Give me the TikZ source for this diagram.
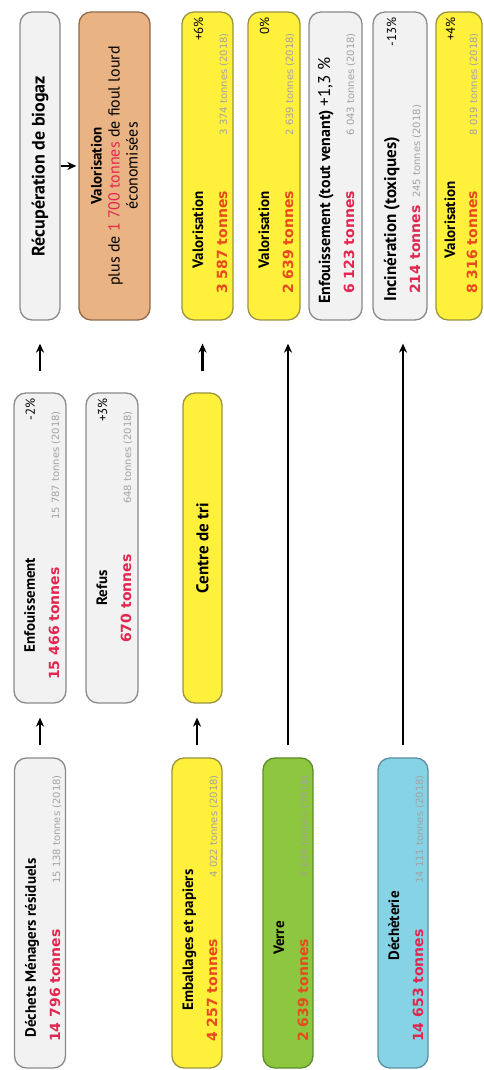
\documentclass[tikz,border=0pt]{standalone}
\usepackage{fontspec}
\usetikzlibrary{arrows.meta}
\newfontfamily\ttlfont{PT Sans}
\newfontfamily\numfont{DejaVu Sans}
\definecolor{greyfill}{HTML}{F2F2F2}
\definecolor{greyline}{HTML}{8A8A8A}
\definecolor{yelfill}{HTML}{FFF03C}
\definecolor{yelline}{HTML}{9A9440}
\definecolor{grnfill}{HTML}{8DC63F}
\definecolor{grnline}{HTML}{5E8C2A}
\definecolor{cyanfill}{HTML}{86D3E6}
\definecolor{cyanline}{HTML}{5B8FA3}
\definecolor{orgfill}{HTML}{E9B384}
\definecolor{orgline}{HTML}{8E6B4B}
\definecolor{numred}{HTML}{E2264F}
\definecolor{numorange}{HTML}{E8491D}
\definecolor{oldgrey}{HTML}{A3A3A3}

\tikzset{
  wbox/.style={draw, rounded corners=12pt, line width=1.3pt, minimum width=310pt, inner sep=0pt},
  greybox/.style={wbox, draw=greyline, fill=greyfill},
  yelbox/.style={wbox, draw=yelline, fill=yelfill},
  grnbox/.style={wbox, draw=grnline, fill=grnfill},
  cyanbox/.style={wbox, draw=cyanline, fill=cyanfill},
  orgbox/.style={wbox, draw=orgline, fill=orgfill},
  ttl/.style={font=\ttlfont\bfseries\fontsize{15}{18}\selectfont, inner sep=0pt, anchor=base},
  qty/.style={font=\numfont\bfseries\fontsize{14}{16}\selectfont, text=numred, inner sep=0pt, anchor=base west},
  prev/.style={font=\numfont\fontsize{10}{12}\selectfont, text=oldgrey, inner sep=0pt, anchor=base east},
  pct/.style={font=\ttlfont\fontsize{13}{15}\selectfont, inner sep=0pt, anchor=base east},
  flow/.style={-{Stealth[length=9pt,width=8pt]}, line width=2.5pt},
}

\begin{document}
\begin{tikzpicture}[x=1pt, y=1pt, rotate=90, transform shape]
\useasboundingbox (0,0) rectangle (1070,-483);

\node[greybox, minimum height=51pt] (dmr) at (157,-40) {};
\node[greybox, minimum height=52pt] (enf) at (522,-40) {};
\node[greybox, minimum height=52pt] (refus) at (522,-112) {};
\node[greybox, minimum height=40pt, minimum width=308pt] (recup) at (904,-40) {};
\node[orgbox, minimum height=71pt, minimum width=308pt] (valo) at (904,-114.5) {};
\node[yelbox, minimum height=50pt] (emb) at (157,-197) {};
\node[yelbox, minimum height=39pt] (tri) at (522,-202.5) {};
\node[yelbox, minimum height=51pt, minimum width=308pt] (val1) at (904,-207.5) {};
\node[grnbox, minimum height=50pt] (verre) at (157,-288) {};
\node[yelbox, minimum height=52pt, minimum width=308pt] (val2) at (904,-274) {};
\node[greybox, minimum height=53pt, minimum width=308pt] (enftv) at (904,-335.5) {};
\node[cyanbox, minimum height=50pt] (dech) at (157,-403) {};
\node[greybox, minimum height=54pt, minimum width=308pt] (inc) at (904,-400) {};
\node[yelbox, minimum height=46pt, minimum width=308pt] (val3) at (904,-459) {};

\node[ttl] (dmr-t) at (122,-36) {Déchets Ménagers résiduels};
\node[qty] (dmr-n) at (28,-60) {14 796 tonnes};
\node[prev] (dmr-o) at (295,-60) {15 138 tonnes (2018)};

\node[ttl] (enf-t) at (465,-35) {Enfouissement};
\node[pct] (enf-p) at (672,-35) {-2\%};
\node[qty] (enf-n) at (390,-59) {15 466 tonnes};
\node[prev] (enf-o) at (659,-59) {15 787 tonnes (2018)};

\node[ttl] (refus-t) at (482,-107) {Refus};
\node[pct] (refus-p) at (672,-107) {+3\%};
\node[qty] (refus-n) at (427,-131) {670 tonnes};
\node[prev] (refus-o) at (659,-131) {648 tonnes (2018)};

\node[ttl, anchor=center, font=\ttlfont\bfseries\fontsize{18}{20}\selectfont] (recup-t) at (recup.center) {Récupération de biogaz};
\node[ttl, anchor=center, align=center, font=\ttlfont\fontsize{16}{18}\selectfont] (valo-t) at (valo.center)
  {\textbf{\fontsize{15}{18}\selectfont Valorisation}\\plus de \textcolor{numred}{1 700 tonnes} de fioul lourd\\économisées};

\node[ttl] (emb-t) at (130,-193) {Emballages et papiers};
\node[qty, text=numorange] (emb-n) at (28,-217) {4 257 tonnes};
\node[prev] (emb-o) at (295,-217) {4 022 tonnes (2018)};

\node[ttl, anchor=center, font=\ttlfont\bfseries\fontsize{17}{20}\selectfont] (tri-t) at (tri.center) {Centre de tri};

\node[ttl] (val1-t) at (840,-203) {Valorisation};
\node[pct] (val1-p) at (1053,-203) {+6\%};
\node[qty, text=numorange] (val1-n) at (776,-227) {3 587 tonnes};
\node[prev] (val1-o) at (1037,-227) {3 374 tonnes (2018)};

\node[ttl] (verre-t) at (132,-284) {Verre};
\node[qty, text=numorange] (verre-n) at (28,-308) {2 639 tonnes};
\node[prev] (verre-o) at (295,-308) {2 639 tonnes (2018)};

\node[ttl] (val2-t) at (840,-269) {Valorisation};
\node[pct] (val2-p) at (1053,-269) {0\%};
\node[qty, text=numorange] (val2-n) at (776,-293) {2 639 tonnes};
\node[prev] (val2-o) at (1037,-293) {2 639 tonnes (2018)};

\node[ttl, anchor=base west, font=\ttlfont\bfseries\fontsize{16}{18}\selectfont] (enftv-t) at (766,-330) {Enfouissement (tout venant) {\mdseries\fontsize{17}{18}\selectfont +1,3~\%}};
\node[qty] (enftv-n) at (776,-354) {6 123 tonnes};
\node[prev] (enftv-o) at (1037,-354) {6 043 tonnes (2018)};

\node[ttl] (dech-t) at (144,-399) {Déchèterie};
\node[qty] (dech-n) at (28,-423) {14 653 tonnes};
\node[prev] (dech-o) at (295,-423) {14 111 tonnes (2018)};

\node[ttl, anchor=base west, font=\ttlfont\bfseries\fontsize{17}{18}\selectfont] (inc-t) at (768,-396) {Incinération (toxiques)};
\node[pct] (inc-p) at (1053,-396) {-13\%};
\node[qty] (inc-n) at (776,-420) {214 tonnes};
\node[prev, anchor=base west] (inc-o) at (872,-420) {245 tonnes (2018)};

\node[ttl] (val3-t) at (850,-455) {Valorisation};
\node[pct] (val3-p) at (1053,-455) {+4\%};
\node[qty, text=numorange] (val3-n) at (776,-477) {8 316 tonnes};
\node[prev] (val3-o) at (1037,-477) {8 019 tonnes (2018)};

\draw[flow, shorten <=12pt, shorten >=14pt] (dmr.east) -- (enf.west);
\draw[flow, shorten <=21pt, shorten >=23pt] (enf.east) -- (recup.west);
\draw[flow, shorten <=12pt, shorten >=14pt] (emb.east) -- (emb.east -| tri.west);
\draw[flow, shorten <=21pt, shorten >=23pt] (tri.east) -- (tri.east -| val1.west);
\draw[flow, line width=2.2pt, shorten <=12pt, shorten >=23pt] (verre.east) -- (verre.east -| val2.west);
\draw[flow, line width=2.2pt, shorten <=12pt, shorten >=23pt] (dech.east) -- (dech.east -| inc.west);
\draw[flow, line width=2.2pt, shorten <=0pt, shorten >=2pt] (recup.south) -- (valo.north);

\end{tikzpicture}
\end{document}
